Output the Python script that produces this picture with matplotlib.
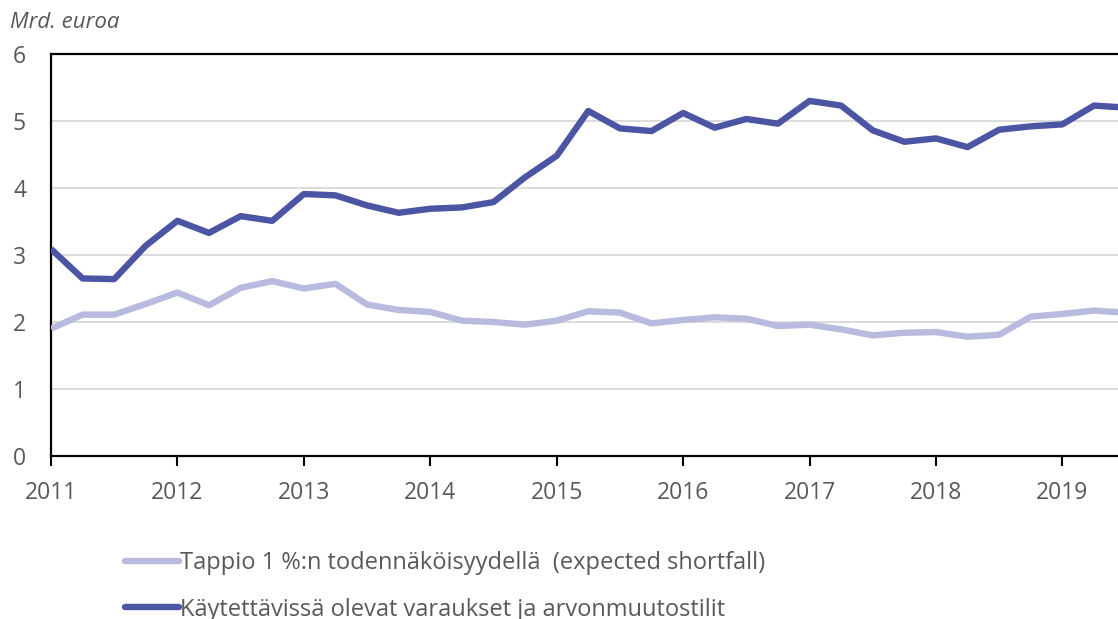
import matplotlib
matplotlib.use("Agg")
import matplotlib.pyplot as plt
import numpy as np

# Quarterly data starting 2011
years = ["2011", "2012", "2013", "2014", "2015", "2016", "2017", "2018", "2019"]
expected_shortfall = [1.90, 2.11, 2.11, 2.27, 2.44, 2.25, 2.51, 2.61, 2.50, 2.57,
                      2.26, 2.18, 2.15, 2.02, 2.00, 1.96, 2.02, 2.16, 2.14, 1.98,
                      2.03, 2.07, 2.05, 1.94, 1.96, 1.89, 1.80, 1.84, 1.85, 1.78,
                      1.81, 2.08, 2.12, 2.17, 2.14]
provisions = [3.09, 2.65, 2.64, 3.14, 3.51, 3.33, 3.58, 3.51, 3.91, 3.89,
              3.74, 3.63, 3.69, 3.71, 3.79, 4.16, 4.48, 5.15, 4.89, 4.85,
              5.12, 4.90, 5.03, 4.96, 5.30, 5.23, 4.86, 4.69, 4.74, 4.61,
              4.87, 4.92, 4.95, 5.23, 5.20]
label_es = "Tappio 1 %:n todennäköisyydellä  (expected shortfall)"
label_pr = "Käytettävissä olevat varaukset ja arvonmuutostilit"

plt.rcParams['font.family'] = ['Open Sans', 'DejaVu Sans']
TXT = '#595959'
LIGHT = '#B8BADF'
DARK = '#4B55A4'

fig = plt.figure(figsize=(11.18, 6.19), dpi=100)
ax = fig.add_axes([51/1118, 1 - 456/619, 1 - 51/1118, (456 - 54)/619])

x = np.arange(len(provisions))
ax.plot(x, expected_shortfall, color=LIGHT, lw=4.6, solid_joinstyle='round',
        solid_capstyle='butt', label=label_es, zorder=3)
ax.plot(x, provisions, color=DARK, lw=4.6, solid_joinstyle='round',
        solid_capstyle='butt', label=label_pr, zorder=4)

ax.set_xlim(0, 33.76)
ax.set_ylim(0, 6)
ax.set_yticks(range(0, 7))
ax.set_xticks(np.arange(0, 4 * len(years), 4))
ax.set_xticklabels(years)
ax.grid(axis='y', color='#d9d9d9', lw=1.3)
ax.set_axisbelow(True)

for s in ['left', 'bottom', 'top']:
    ax.spines[s].set_color('black')
    ax.spines[s].set_linewidth(1.6)
ax.spines['right'].set_visible(False)

ax.tick_params(axis='y', length=0, pad=18, labelsize=16.5, labelcolor=TXT)
ax.tick_params(axis='x', length=7, width=1.5, color='black', pad=11,
               labelsize=16.5, labelcolor=TXT)

fig.text(10/1118, 1 - 22/619, "Mrd. euroa", style='italic', color=TXT,
         fontsize=16, va='center', ha='left')

h1 = plt.Line2D([], [], color=LIGHT, lw=4.6, solid_capstyle='round')
h2 = plt.Line2D([], [], color=DARK, lw=4.6, solid_capstyle='round')
fig.legend([h1, h2], [label_es, label_pr], loc='upper left',
           bbox_to_anchor=(125/1118, 1 - 551/619), frameon=False,
           fontsize=17, handlelength=2.3, handletextpad=0.05,
           borderpad=0, borderaxespad=0, labelspacing=0.96,
           labelcolor=TXT)

fig.savefig("out.png", dpi=100)
